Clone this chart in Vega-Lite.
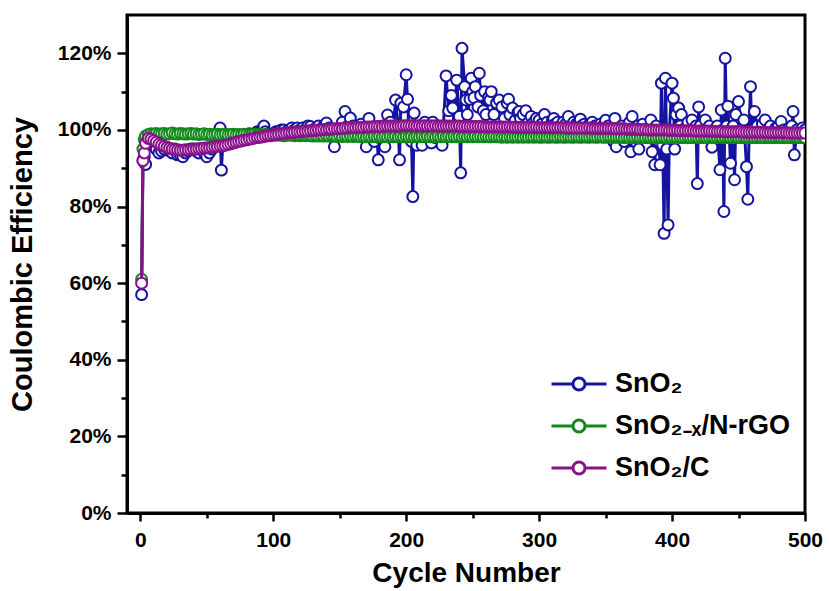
{
"$schema":"https://vega.github.io/schema/vega-lite/v6.json",
"width":678,"height":498,
"autosize":"none",
"padding":{"left":127,"top":15,"right":24,"bottom":78},
"background":"white",
"config":{"view":{"stroke":"black","strokeWidth":3},"font":"Liberation Sans"},
"data":{"values":[
{"c":1,"b":57,"g":61,"p":60},
{"c":2,"b":92,"g":95,"p":92},
{"c":3,"b":93,"g":97.5,"p":94},
{"c":4,"b":91,"g":98.4,"p":96.5},
{"c":6,"b":96,"g":98.8,"p":97.8},
{"c":8,"b":97,"g":99,"p":97.6},
{"c":10,"b":96,"g":98.9,"p":97.2},
{"c":12,"b":95,"g":99.1,"p":96.8},
{"c":14,"b":94,"g":98.9,"p":96.3},
{"c":16,"b":94.5,"g":99,"p":96},
{"c":18,"b":95,"g":99.1,"p":95.7},
{"c":20,"b":95.5,"g":98.9,"p":95.4},
{"c":22,"b":94.5,"g":99,"p":95.2},
{"c":24,"b":94,"g":99.2,"p":95},
{"c":26,"b":95,"g":99,"p":94.9},
{"c":28,"b":93.5,"g":98.9,"p":94.8},
{"c":30,"b":93.5,"g":99.1,"p":94.7},
{"c":32,"b":93,"g":99,"p":94.7},
{"c":34,"b":94,"g":98.9,"p":94.8},
{"c":36,"b":94.5,"g":99,"p":94.8},
{"c":38,"b":95,"g":99.1,"p":94.9},
{"c":40,"b":95,"g":98.9,"p":95},
{"c":42,"b":94.5,"g":99,"p":95},
{"c":44,"b":94,"g":98.8,"p":95.1},
{"c":46,"b":95,"g":98.9,"p":95.2},
{"c":48,"b":94,"g":99,"p":95.3},
{"c":50,"b":93,"g":98.8,"p":95.3},
{"c":52,"b":94,"g":98.9,"p":95.4},
{"c":54,"b":95,"g":98.7,"p":95.5},
{"c":56,"b":96,"g":98.8,"p":95.6},
{"c":58,"b":97,"g":98.9,"p":95.7},
{"c":60,"b":100.5,"g":98.7,"p":95.8},
{"c":61,"b":89.5},
{"c":62,"b":96,"g":98.8,"p":95.9},
{"c":64,"b":96.5,"g":98.9,"p":96},
{"c":66,"b":97,"g":98.7,"p":96.2},
{"c":68,"b":96.5,"g":98.8,"p":96.4},
{"c":70,"b":97,"g":98.9,"p":96.6},
{"c":72,"b":97.5,"g":98.7,"p":96.8},
{"c":74,"b":98,"g":98.8,"p":97},
{"c":76,"b":98.5,"g":98.7,"p":97.1},
{"c":78,"b":98,"g":98.9,"p":97.3},
{"c":80,"b":98.5,"g":98.8,"p":97.4},
{"c":82,"b":99,"g":98.7,"p":97.6},
{"c":84,"b":98.5,"g":98.8,"p":97.7},
{"c":86,"b":99,"g":98.9,"p":97.9},
{"c":88,"b":99.5,"g":98.7,"p":98},
{"c":90,"b":99.5,"g":98.8,"p":98.1},
{"c":92,"b":100,"g":98.7,"p":98.2},
{"c":93,"b":101},
{"c":94,"b":99.5,"g":98.8,"p":98.4},
{"c":96,"b":99,"g":98.7,"p":98.5},
{"c":98,"b":98.5,"g":98.6,"p":98.6},
{"c":100,"b":99,"g":98.7,"p":98.7},
{"c":102,"b":99.5,"g":98.6,"p":98.8},
{"c":104,"b":99.5,"g":98.7,"p":98.9},
{"c":106,"b":100,"g":98.6,"p":99},
{"c":108,"b":100,"g":98.5,"p":99.1},
{"c":110,"b":99.5,"g":98.6,"p":99.2},
{"c":112,"b":100,"g":98.7,"p":99.3},
{"c":114,"b":100.5,"g":98.6,"p":99.3},
{"c":116,"b":100,"g":98.5,"p":99.4},
{"c":118,"b":100.5,"g":98.6,"p":99.5},
{"c":120,"b":100,"g":98.5,"p":99.5},
{"c":122,"b":100.5,"g":98.6,"p":99.6},
{"c":124,"b":100,"g":98.5,"p":99.7},
{"c":126,"b":101,"g":98.6,"p":99.7},
{"c":128,"b":100.9,"g":98.5,"p":99.8},
{"c":130,"b":100,"g":98.4,"p":99.9},
{"c":132,"b":100.5,"g":98.5,"p":99.9},
{"c":134,"b":101,"g":98.4,"p":100},
{"c":136,"b":100,"g":98.5,"p":100},
{"c":138,"b":101,"g":98.4,"p":100.1},
{"c":140,"b":101.8,"g":98.5,"p":100.1},
{"c":142,"b":100.5,"g":98.4,"p":100.2},
{"c":144,"b":99,"g":98.5,"p":100.2},
{"c":146,"b":95.6,"g":98.4,"p":100.3},
{"c":148,"b":99.5,"g":98.3,"p":100.3},
{"c":150,"b":100.5,"g":98.4,"p":100.4},
{"c":152,"b":102,"g":98.3,"p":100.4},
{"c":154,"b":104.8,"g":98.4,"p":100.5},
{"c":156,"b":101,"g":98.3,"p":100.5},
{"c":158,"b":103.1,"g":98.4,"p":100.6},
{"c":160,"b":101,"g":98.3,"p":100.6},
{"c":162,"b":100,"g":98.4,"p":100.6},
{"c":164,"b":99,"g":98.3,"p":100.7},
{"c":166,"b":101.5,"g":98.2,"p":100.7},
{"c":168,"b":99,"g":98.3,"p":100.7},
{"c":170,"b":95.6,"g":98.2,"p":100.8},
{"c":172,"b":103,"g":98.3,"p":100.8},
{"c":174,"b":100,"g":98.2,"p":100.8},
{"c":176,"b":97,"g":98.3,"p":100.9},
{"c":178,"b":99,"g":98.2,"p":100.9},
{"c":179,"b":92.2},
{"c":180,"b":98,"g":98.3,"p":100.9},
{"c":182,"b":101,"g":98.2,"p":100.9},
{"c":184,"b":95.6,"g":98.3,"p":101},
{"c":186,"b":103.9,"g":98.2,"p":101},
{"c":188,"b":102,"g":98.3,"p":101},
{"c":190,"b":99,"g":98.2,"p":101},
{"c":192,"b":107.8,"g":98.3,"p":101},
{"c":194,"b":101,"g":98.2,"p":101},
{"c":195,"b":92.2},
{"c":196,"b":107,"g":98.3,"p":101},
{"c":198,"b":106,"g":98.2,"p":101.1},
{"c":200,"b":114.4,"g":98.3,"p":101.1},
{"c":201,"b":108},
{"c":202,"b":100,"g":98.2,"p":101.1},
{"c":204,"b":97,"g":98.3,"p":101.1},
{"c":205,"b":82.6},
{"c":206,"b":104.4,"g":98.2,"p":101.1},
{"c":208,"b":96,"g":98.3,"p":101},
{"c":210,"b":101,"g":98.2,"p":101.1},
{"c":212,"b":96,"g":98.3,"p":101},
{"c":214,"b":102,"g":98.2,"p":101.1},
{"c":216,"b":99,"g":98.3,"p":101},
{"c":218,"b":101,"g":98.2,"p":101.1},
{"c":219,"b":96.6},
{"c":220,"b":102,"g":98.3,"p":101},
{"c":222,"b":98,"g":98.2,"p":101.1},
{"c":224,"b":101,"g":98.3,"p":101},
{"c":226,"b":100,"g":98.2,"p":101},
{"c":227,"b":96},
{"c":228,"b":101,"g":98.3,"p":101},
{"c":230,"b":114.1,"g":98.2,"p":101},
{"c":232,"b":105,"g":98.3,"p":101},
{"c":234,"b":109,"g":98.2,"p":101},
{"c":235,"b":105.7},
{"c":236,"b":101,"g":98.3,"p":101},
{"c":238,"b":113,"g":98.2,"p":101},
{"c":240,"b":103.5,"g":98.3,"p":101},
{"c":241,"b":88.8},
{"c":242,"b":121.3,"g":98.2,"p":100.9},
{"c":244,"b":111.3,"g":98.3,"p":100.9},
{"c":245,"b":107.8},
{"c":246,"b":104,"g":98.2,"p":100.9},
{"c":248,"b":108,"g":98.3,"p":100.9},
{"c":249,"b":113.5},
{"c":250,"b":110,"g":98.2,"p":100.9},
{"c":251,"b":108.4},
{"c":252,"b":111.3,"g":98.3,"p":100.9},
{"c":254,"b":106,"g":98.2,"p":100.9},
{"c":255,"b":114.8},
{"c":256,"b":109,"g":98.3,"p":100.9},
{"c":258,"b":105,"g":98.2,"p":100.9},
{"c":259,"b":110},
{"c":260,"b":104,"g":98.3,"p":100.8},
{"c":262,"b":108.5,"g":98.2,"p":100.8},
{"c":263,"b":107.8},
{"c":264,"b":110,"g":98.2,"p":100.8},
{"c":266,"b":104,"g":98.3,"p":100.8},
{"c":268,"b":107,"g":98.2,"p":100.8},
{"c":270,"b":107.8,"g":98.2,"p":100.8},
{"c":272,"b":106,"g":98.1,"p":100.8},
{"c":274,"b":103,"g":98.2,"p":100.8},
{"c":276,"b":107,"g":98.1,"p":100.8},
{"c":277,"b":108},
{"c":278,"b":104,"g":98.2,"p":100.8},
{"c":280,"b":105.7,"g":98.1,"p":100.7},
{"c":282,"b":102.5,"g":98.2,"p":100.7},
{"c":284,"b":104.5,"g":98.1,"p":100.7},
{"c":285,"b":104.8},
{"c":286,"b":103,"g":98.2,"p":100.7},
{"c":288,"b":104,"g":98.1,"p":100.7},
{"c":290,"b":105,"g":98.2,"p":100.7},
{"c":292,"b":102,"g":98.1,"p":100.7},
{"c":294,"b":103.5,"g":98.2,"p":100.7},
{"c":296,"b":102,"g":98.1,"p":100.7},
{"c":298,"b":103,"g":98.2,"p":100.7},
{"c":300,"b":102.5,"g":98.1,"p":100.6},
{"c":302,"b":101.5,"g":98.1,"p":100.6},
{"c":304,"b":104,"g":98.2,"p":100.6},
{"c":306,"b":102,"g":98.1,"p":100.6},
{"c":308,"b":101,"g":98.1,"p":100.6},
{"c":310,"b":102.5,"g":98.2,"p":100.6},
{"c":311,"b":103},
{"c":312,"b":101.5,"g":98.1,"p":100.6},
{"c":314,"b":102,"g":98.1,"p":100.6},
{"c":316,"b":101,"g":98.2,"p":100.6},
{"c":318,"b":102,"g":98.1,"p":100.6},
{"c":320,"b":101.5,"g":98.1,"p":100.5},
{"c":322,"b":103.5,"g":98.2,"p":100.5},
{"c":324,"b":101,"g":98.1,"p":100.5},
{"c":326,"b":102,"g":98.1,"p":100.5},
{"c":328,"b":101.5,"g":98.2,"p":100.5},
{"c":330,"b":102,"g":98.1,"p":100.5},
{"c":331,"b":102.8},
{"c":332,"b":101,"g":98.1,"p":100.5},
{"c":334,"b":101.5,"g":98.2,"p":100.5},
{"c":336,"b":100.5,"g":98.1,"p":100.5},
{"c":338,"b":101.5,"g":98.1,"p":100.5},
{"c":340,"b":102,"g":98.2,"p":100.4},
{"c":342,"b":101,"g":98.1,"p":100.4},
{"c":344,"b":100.5,"g":98.1,"p":100.4},
{"c":346,"b":101.5,"g":98.2,"p":100.4},
{"c":348,"b":101,"g":98.1,"p":100.4},
{"c":350,"b":102.5,"g":98.1,"p":100.4},
{"c":352,"b":101,"g":98.2,"p":100.4},
{"c":354,"b":100,"g":98.1,"p":100.4},
{"c":356,"b":97,"g":98.1,"p":100.4},
{"c":357,"b":103},
{"c":358,"b":95.6,"g":98.1,"p":100.3},
{"c":360,"b":99,"g":98.1,"p":100.3},
{"c":362,"b":101,"g":98.1,"p":100.3},
{"c":364,"b":97,"g":98,"p":100.3},
{"c":366,"b":100,"g":98.1,"p":100.2},
{"c":368,"b":102,"g":98,"p":100.2},
{"c":369,"b":94.3},
{"c":370,"b":103.5,"g":98.1,"p":100.2},
{"c":372,"b":98,"g":98,"p":100.2},
{"c":374,"b":101,"g":98.1,"p":100.2},
{"c":375,"b":95},
{"c":376,"b":100,"g":98,"p":100.1},
{"c":378,"b":101.5,"g":98.1,"p":100.1},
{"c":380,"b":100,"g":98,"p":100.1},
{"c":382,"b":98,"g":98.1,"p":100},
{"c":384,"b":102.6,"g":98,"p":100},
{"c":385,"b":94.3},
{"c":386,"b":99,"g":98.1,"p":100},
{"c":387,"b":90.9},
{"c":388,"b":101,"g":98,"p":100},
{"c":390,"b":97,"g":98.1,"p":100},
{"c":391,"b":90.9},
{"c":392,"b":112.2,"g":98,"p":100},
{"c":393,"b":96},
{"c":394,"b":73,"g":98.1,"p":100},
{"c":395,"b":113.5},
{"c":396,"b":95,"g":98,"p":100},
{"c":397,"b":75.2},
{"c":398,"b":100,"g":98.1,"p":99.9},
{"c":400,"b":112.2,"g":98,"p":99.9},
{"c":401,"b":108.3},
{"c":402,"b":95,"g":98.1,"p":99.9},
{"c":403,"b":104},
{"c":404,"b":99,"g":98,"p":99.9},
{"c":405,"b":105.7},
{"c":406,"b":101,"g":98.1,"p":99.8},
{"c":407,"b":104},
{"c":408,"b":99,"g":98,"p":99.8},
{"c":410,"b":100.5,"g":98,"p":99.8},
{"c":412,"b":102,"g":98.1,"p":99.8},
{"c":414,"b":98,"g":98,"p":99.8},
{"c":415,"b":102.6},
{"c":416,"b":100,"g":98,"p":99.8},
{"c":418,"b":101,"g":98.1,"p":99.7},
{"c":419,"b":86},
{"c":420,"b":106,"g":98,"p":99.7},
{"c":421,"b":101},
{"c":422,"b":99,"g":98,"p":99.7},
{"c":424,"b":100,"g":98.1,"p":99.7},
{"c":425,"b":102.6},
{"c":426,"b":99,"g":98,"p":99.7},
{"c":428,"b":101,"g":98,"p":99.7},
{"c":430,"b":95.5,"g":98.1,"p":99.6},
{"c":432,"b":100,"g":98,"p":99.6},
{"c":434,"b":101,"g":98,"p":99.6},
{"c":436,"b":89.6,"g":98.1,"p":99.6},
{"c":437,"b":105.2},
{"c":438,"b":100,"g":98,"p":99.6},
{"c":439,"b":78.7},
{"c":440,"b":118.7,"g":98,"p":99.5},
{"c":441,"b":101},
{"c":442,"b":106.2,"g":98.1,"p":99.5},
{"c":444,"b":91.3,"g":98,"p":99.5},
{"c":446,"b":101,"g":98,"p":99.5},
{"c":447,"b":87},
{"c":448,"b":104,"g":98.1,"p":99.5},
{"c":450,"b":107.4,"g":98,"p":99.5},
{"c":452,"b":100,"g":98,"p":99.5},
{"c":454,"b":102.6,"g":98.1,"p":99.4},
{"c":456,"b":90.4,"g":98,"p":99.4},
{"c":457,"b":81.9},
{"c":458,"b":100,"g":98,"p":99.4},
{"c":459,"b":111.3},
{"c":460,"b":100,"g":98.1,"p":99.4},
{"c":462,"b":104.8,"g":98,"p":99.4},
{"c":464,"b":101,"g":98,"p":99.4},
{"c":466,"b":99,"g":98.1,"p":99.4},
{"c":468,"b":101.5,"g":98,"p":99.4},
{"c":470,"b":102.6,"g":98,"p":99.4},
{"c":472,"b":100,"g":98.1,"p":99.3},
{"c":474,"b":101,"g":98,"p":99.3},
{"c":476,"b":99.5,"g":98,"p":99.3},
{"c":478,"b":100.5,"g":98,"p":99.3},
{"c":480,"b":101,"g":98.1,"p":99.3},
{"c":482,"b":102.2,"g":98,"p":99.3},
{"c":484,"b":100,"g":98,"p":99.3},
{"c":486,"b":99.5,"g":98.1,"p":99.3},
{"c":488,"b":100.5,"g":98,"p":99.2},
{"c":490,"b":101,"g":98,"p":99.2},
{"c":491,"b":104.8},
{"c":492,"b":93.5,"g":98.1,"p":99.2},
{"c":494,"b":100,"g":98,"p":99.2},
{"c":496,"b":99.5,"g":98,"p":99.2},
{"c":498,"b":100.5,"g":98.1,"p":99.2},
{"c":500,"b":100,"g":98,"p":99.2}
]},
"transform":[{"fold":["b","g","p"],"as":["k","v"]},{"filter":"isValid(datum.v)"}],
"encoding":{
 "x":{"field":"c","type":"quantitative","scale":{"domain":[-10,500],"nice":false,"zero":false},
  "axis":{"values":[0,50,100,150,200,250,300,350,400,450,500],"labelExpr":"datum.value % 100 == 0 ? datum.label : ''",
   "tickSize":{"condition":{"test":"datum.value % 100 == 0","value":8},"value":5},
   "tickWidth":2.5,"tickColor":"black","domainColor":"black","domainWidth":3,"grid":false,
   "labelFont":"Liberation Sans","labelFontSize":21,"labelFontWeight":"bold","labelColor":"black","labelPadding":8,"labelFlush":false,
   "title":"Cycle Number","titleFont":"Liberation Sans","titleFontSize":28,"titleFontWeight":"bold","titleColor":"black","titlePadding":9}},
 "y":{"field":"v","type":"quantitative","scale":{"domain":[0,130],"nice":false,"zero":false},
  "axis":{"values":[0,10,20,30,40,50,60,70,80,90,100,110,120],"labelExpr":"datum.value % 20 == 0 ? datum.value + '%' : ''",
   "tickSize":{"condition":{"test":"datum.value % 20 == 0","value":10},"value":6},
   "tickWidth":2.5,"tickColor":"black","domainColor":"black","domainWidth":3,"grid":false,
   "labelFont":"Liberation Sans","labelFontSize":21,"labelFontWeight":"bold","labelColor":"black","labelPadding":6,"labelFlush":false,
   "title":"Coulombic Efficiency","titleFont":"Liberation Sans","titleFontSize":29,"titleFontWeight":"bold","titleColor":"black","titlePadding":20}},
 "color":{"field":"k","type":"nominal","scale":{"domain":["b","g","p"],"range":["#14149f","#10881a","#8a108a"]},
  "legend":{"orient":"none","legendX":423,"legendY":340,"title":null,"padding":0,
   "symbolType":"M-1,0H-0.22A0.22,0.22,0,1,1,0.22,0A0.22,0.22,0,1,1,-0.22,0M0.22,0H1",
   "symbolSize":3025,"symbolStrokeWidth":3,"symbolFillColor":"white",
   "labelFont":"Liberation Sans","labelFontSize":27,"labelFontWeight":"bold","labelColor":"black","labelOffset":7,"labelLimit":400,"rowPadding":0,
   "labelExpr":"datum.label == 'b' ? 'SnO₂' : datum.label == 'g' ? 'SnO₂₋ₓ/N-rGO' : 'SnO₂/C'"}}
},
"layer":[
 {"transform":[{"filter":"datum.k == 'b'"}],"mark":{"type":"line","strokeWidth":3,"clip":true}},
 {"transform":[{"filter":"datum.k == 'b'"}],"mark":{"type":"point","filled":false,"fill":"white","size":120,"strokeWidth":2,"opacity":1,"clip":true}},
 {"transform":[{"filter":"datum.k == 'g'"}],"mark":{"type":"line","strokeWidth":3,"clip":true}},
 {"transform":[{"filter":"datum.k == 'g'"}],"mark":{"type":"point","filled":false,"fill":"white","size":120,"strokeWidth":2,"opacity":1,"clip":true}},
 {"transform":[{"filter":"datum.k == 'p'"}],"mark":{"type":"line","strokeWidth":3,"clip":true}},
 {"transform":[{"filter":"datum.k == 'p'"}],"mark":{"type":"point","filled":false,"fill":"white","size":120,"strokeWidth":2,"opacity":1,"clip":true}}
]
}
